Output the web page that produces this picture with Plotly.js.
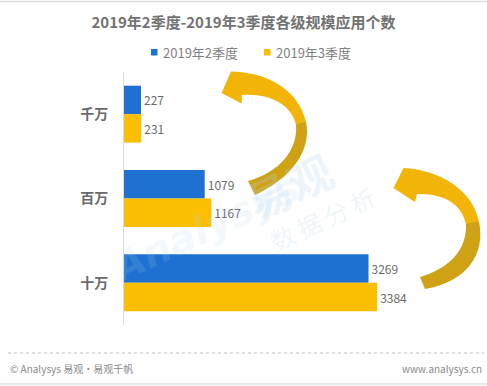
<!DOCTYPE html>
<html><head><meta charset="utf-8">
<script src="https://cdn.plot.ly/plotly-3.0.1.min.js"></script>
<style>html,body{margin:0;padding:0;background:#fff;}#chart{width:487px;height:386px;}</style>
</head><body><div id="chart"></div>
<script>
const categories = ['千万', '百万', '十万'];
const seriesNames = ['2019年2季度', '2019年3季度'];
const q2Values = [227, 1079, 3269];
const q3Values = [231, 1167, 3384];
const seriesColors = ['#1E71D0', '#FBBE00'];
const titleText = '2019年2季度-2019年3季度各级规模应用个数';
const footerLeft = '© Analysys 易观·易观千帆';
const footerRight = 'www.analysys.cn';

const W = 487, H = 386;
const M = {l: 124, r: 64, t: 72, b: 61};
const PW = W - M.l - M.r, PH = H - M.t - M.b;
const PX = x => (x - M.l) / PW;
const PY = y => (H - M.b - y) / PH;
function path(cmds) {
  return cmds.map(c => c[0] + ' ' + c.slice(1).map(p => PX(p[0]).toFixed(4) + ',' + PY(p[1]).toFixed(4)).join(' ')).join(' ') + ' Z';
}

const font = '"Noto Sans CJK SC", "Noto Sans", sans-serif';

const traces = [q2Values, q3Values].map((vals, i) => ({
  type: 'bar', orientation: 'h', name: seriesNames[i], y: categories, x: vals,
  marker: {color: seriesColors[i]}, text: vals.map(String), textposition: 'outside',
  textfont: {family: font, size: 12, color: '#6a6a6a'}, cliponaxis: false, hoverinfo: 'none',
  showlegend: false
}));

// decorative curved arrows (pixel outlines converted to paper coords)
const bright = '#F2B507', dark = '#CFA216';
const a1top = path([
  ['M', [221.5, 93]], ['L', [231, 71.5], [235, 78.5]],
  ['C', [265, 72], [298, 88], [306, 122]],
  ['L', [296, 125]],
  ['C', [292, 105], [270, 93], [242, 95]],
  ['L', [241.5, 103.5]]
]);
const a1bot = path([
  ['M', [306, 121.5]],
  ['C', [312, 150], [292, 178], [255, 195]],
  ['L', [248, 181]],
  ['C', [280, 172], [298, 150], [296, 124.5]]
]);
const a2top = path([
  ['M', [393.5, 188]], ['L', [403.5, 168], [408.5, 175]],
  ['C', [440, 170], [473, 190], [479, 222]],
  ['L', [466, 224]],
  ['C', [462, 205], [445, 193], [417, 194]],
  ['L', [415, 202]]
]);
const a2bot = path([
  ['M', [479, 221.5]],
  ['C', [486, 255], [466, 282], [425, 289]],
  ['L', [420, 277]],
  ['C', [450, 268], [467, 250], [466, 223.5]]
]);

// manual legend (small square markers)
const legendItems = [
  {x: 151, label: seriesNames[0], color: seriesColors[0]},
  {x: 264, label: seriesNames[1], color: seriesColors[1]}
];
const legendShapes = legendItems.map(it => ({type: 'rect', xref: 'paper', yref: 'paper',
  x0: PX(it.x), x1: PX(it.x + 6.5), y0: PY(55.5), y1: PY(49), fillcolor: it.color, line: {width: 0}}));
const legendAnn = legendItems.map(it => ({text: it.label, xref: 'paper', yref: 'paper',
  x: PX(it.x + 10), y: PY(52.5), xanchor: 'left', yanchor: 'middle', showarrow: false,
  font: {family: font, size: 13, color: '#808080'}}));

const wm = 'rgba(175,212,240,0.22)';
const layout = {
  width: W, height: H,
  margin: M,
  paper_bgcolor: '#ffffff', plot_bgcolor: 'rgba(0,0,0,0)',
  font: {family: font, color: '#666'},
  title: {text: '<b>' + titleText + '</b>', x: 0.5, xanchor: 'center', xref: 'container',
          y: 1 - 23 / H, yanchor: 'middle', yref: 'container',
          font: {family: font, size: 15, color: '#727272'}},
  showlegend: false,
  barmode: 'group', bargap: 0.325, bargroupgap: 0,
  xaxis: {range: [0, PW / 0.0748], visible: false, showgrid: false, zeroline: false, fixedrange: true},
  yaxis: {type: 'category', autorange: 'reversed', showline: true, linecolor: '#dcdcdc', linewidth: 1,
          showgrid: false, zeroline: false, ticks: 'outside', ticklen: 12, tickcolor: 'rgba(0,0,0,0)',
          tickfont: {family: font, size: 14, color: '#6a6a6a', weight: 'bold'}, fixedrange: true},
  shapes: [
    {type: 'line', xref: 'paper', yref: 'paper', x0: PX(0), x1: PX(487), y0: PY(1.5), y1: PY(1.5),
     line: {color: '#dddddd', width: 1.5}},
    {type: 'line', xref: 'paper', yref: 'paper', x0: PX(8), x1: PX(484), y0: PY(353), y1: PY(353),
     line: {color: '#c0c0c0', width: 1, dash: 'dot'}},
    {type: 'line', xref: 'paper', yref: 'paper', x0: PX(0), x1: PX(487), y0: PY(384), y1: PY(384),
     line: {color: '#e2e2e2', width: 1.5}},
    {type: 'path', xref: 'paper', yref: 'paper', path: a1top, fillcolor: bright, line: {width: 0}, layer: 'above'},
    {type: 'path', xref: 'paper', yref: 'paper', path: a1bot, fillcolor: dark, line: {width: 0}, layer: 'above'},
    {type: 'path', xref: 'paper', yref: 'paper', path: a2top, fillcolor: bright, line: {width: 0}, layer: 'above'},
    {type: 'path', xref: 'paper', yref: 'paper', path: a2bot, fillcolor: dark, line: {width: 0}, layer: 'above'}
  ].concat(legendShapes),
  annotations: [
    {text: footerLeft, xref: 'paper', yref: 'paper', x: PX(8), y: PY(369), xanchor: 'left', yanchor: 'middle',
     showarrow: false, font: {family: font, size: 10, color: '#8a8a8a'}},
    {text: footerRight, xref: 'paper', yref: 'paper', x: PX(484), y: PY(369), xanchor: 'right', yanchor: 'middle',
     showarrow: false, font: {family: font, size: 10, color: '#8a8a8a'}},
    {text: '<b>易观</b>', xref: 'paper', yref: 'paper', x: PX(345), y: PY(135), showarrow: false, textangle: -25,
     font: {family: font, size: 44, color: wm}},
    {text: '数 据 分 析', xref: 'paper', yref: 'paper', x: PX(322), y: PY(218), showarrow: false, textangle: -25,
     font: {family: font, size: 24, color: wm}},
    {text: '<b><i>Analysys</i></b>', xref: 'paper', yref: 'paper', x: PX(100), y: PY(228), showarrow: false, textangle: -25,
     font: {family: 'DejaVu Sans', size: 40, color: 'rgba(175,212,240,0.16)'}}
  ].concat(legendAnn)
};

Plotly.newPlot('chart', traces, layout, {staticPlot: true, displayModeBar: false});
</script></body></html>
